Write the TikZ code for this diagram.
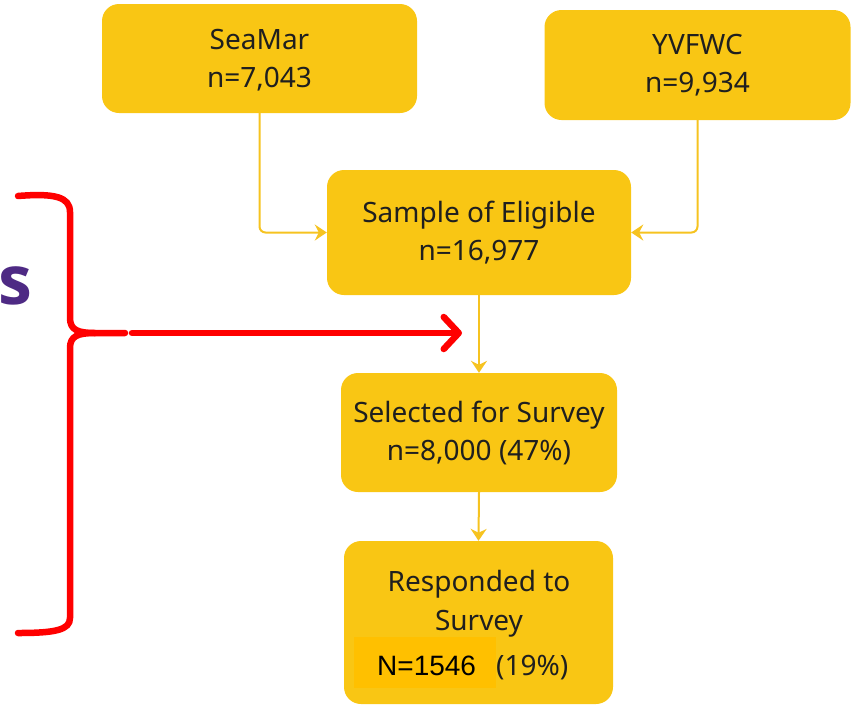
\documentclass[tikz,border=0pt]{standalone}
\usepackage{fontspec}
\setmainfont{Noto Sans}
\newfontfamily\arialfont{Liberation Sans}
\newfontfamily\sboldfont{Open Sans}
\usetikzlibrary{arrows.meta}
\definecolor{boxy}{HTML}{F9C614}
\definecolor{liney}{HTML}{F6C320}
\definecolor{hilite}{HTML}{FFC000}
\definecolor{txt}{HTML}{1F1F1F}
\definecolor{purp}{HTML}{4E2A84}
\definecolor{redc}{HTML}{FF0000}
\begin{document}
\begin{tikzpicture}[x=1pt,y=-1pt,
  box/.style={fill=boxy, rounded corners=17pt, align=center, text=txt,
    font=\fontsize{28}{38}\selectfont, inner sep=0pt},
  conn/.style={draw=liney, line width=2pt, rounded corners=6pt,
    -{Stealth[length=12pt,width=16pt,inset=4pt]}},
  redline/.style={draw=redc, line width=6.5pt, line cap=round, line join=round}]
\useasboundingbox (0,0) rectangle (851,705);

\node[box, minimum width=315pt, minimum height=109pt, text depth=-4pt] (seamar) at (259.5,58.5) {SeaMar\\n=7,043};
\node[box, minimum width=306pt, minimum height=110pt] (yvfwc) at (697.5,65) {YVFWC\\n=9,934};
\node[box, minimum width=304pt, minimum height=125pt] (sample) at (479,232.5) {Sample of Eligible\\n=16,977};
\node[box, minimum width=276pt, minimum height=119pt] (selected) at (479,432.5) {Selected for Survey\\n=8,000 (47\%)};
\node[box, minimum width=269pt, minimum height=163pt] (resp) at (478.5,622.5) {};
\node[align=center, text=txt, font=\fontsize{28}{39}\selectfont, inner sep=0pt] (resptext) at (479,604) {Responded to\\Survey};
\fill[hilite] (354,637) rectangle (496,688);
\node[anchor=base west, inner sep=0pt, text=black, font=\arialfont\fontsize{28}{30}\selectfont] (nval) at (377,675) {N=1546};
\node[anchor=base west, inner sep=0pt, text=txt, font=\fontsize{28}{30}\selectfont] (pct) at (496,675) {(19\%)};

\draw[conn] (seamar.south) |- (sample.west);
\draw[conn] (yvfwc.south) |- (sample.east);
\draw[conn, rounded corners=0pt] (sample.south) -- (selected.north);
\draw[conn, rounded corners=0pt] (selected.south) -- (resp.north);

\node[anchor=base east, inner sep=0pt, text=purp, font=\sboldfont\bfseries\fontsize{68}{68}\selectfont] (sletter) at (33,304) {s};

\draw[redline] (18,196) .. controls (55,193) and (70,197) .. (70,212) -- (70,318)
  .. controls (70,330) and (78,333) .. (95,333) -- (125,333);
\draw[redline] (95,333) .. controls (78,333) and (70,336) .. (70,348) -- (70,618)
  .. controls (70,630) and (55,633) .. (18,633);
\coordinate (rs) at (132,333);
\coordinate (re) at (462,333);
\draw[redline, -{Straight Barb[length=15pt,width=32pt,round]}] (rs) -- (re);
\end{tikzpicture}
\end{document}
